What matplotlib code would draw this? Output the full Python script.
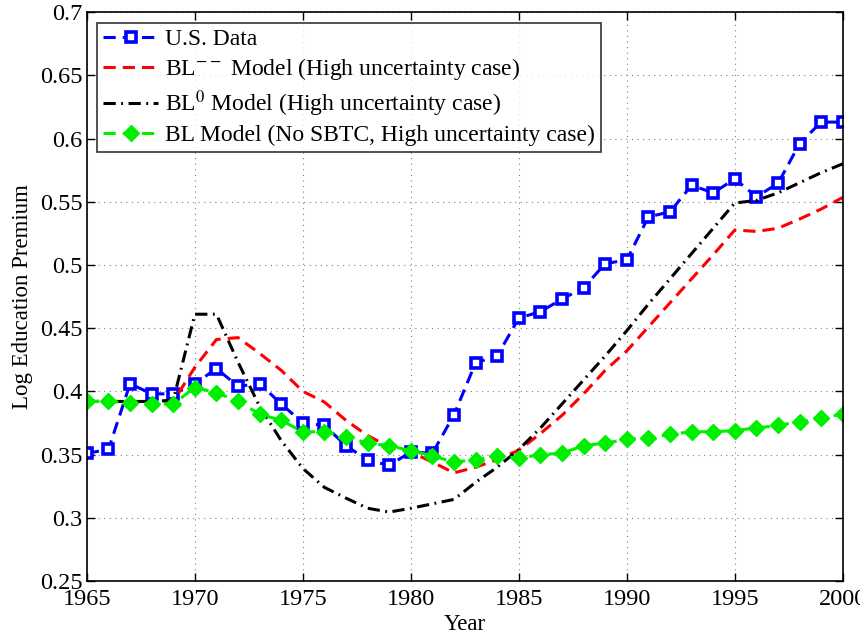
import numpy as np
import matplotlib.pyplot as plt
from matplotlib.ticker import FuncFormatter

plt.rcParams['font.family'] = ['Liberation Serif', 'DejaVu Serif']
plt.rcParams['mathtext.fontset'] = 'stix'

# Data
years = np.arange(1965, 2001)
us_data = [0.351, 0.354, 0.406, 0.398, 0.398, 0.406, 0.418, 0.404, 0.406, 0.390,
           0.375, 0.373, 0.357, 0.3455, 0.3415, 0.352, 0.351, 0.3815, 0.4226, 0.428,
           0.458, 0.463, 0.473, 0.482, 0.501, 0.504, 0.538, 0.542, 0.563, 0.557,
           0.568, 0.554, 0.5645, 0.596, 0.613, 0.613]
bl_mm = [0.392, 0.392, 0.392, 0.392, 0.392, 0.419, 0.441, 0.4425, 0.430, 0.4166,
         0.400, 0.3915, 0.377, 0.365, 0.356, 0.352, 0.344, 0.3355, 0.340, 0.346,
         0.3534, 0.3666, 0.381, 0.398, 0.4166, 0.432, 0.451, 0.470, 0.489, 0.508,
         0.5276, 0.5265, 0.529, 0.5363, 0.5442, 0.5534]
bl_0 = [0.392, 0.392, 0.392, 0.392, 0.393, 0.461, 0.461, 0.423, 0.388, 0.361,
        0.339, 0.324, 0.3155, 0.3075, 0.3045, 0.3075, 0.311, 0.3145, 0.328, 0.340,
        0.354, 0.371, 0.390, 0.409, 0.428, 0.448, 0.469, 0.489, 0.509, 0.529,
        0.549, 0.551, 0.557, 0.565, 0.573, 0.580]
bl_nosbtc = [0.392, 0.392, 0.391, 0.390, 0.390, 0.403, 0.399, 0.392, 0.382, 0.377,
             0.368, 0.368, 0.364, 0.359, 0.357, 0.353, 0.349, 0.344, 0.346, 0.349,
             0.347, 0.350, 0.351, 0.357, 0.359, 0.362, 0.363, 0.366, 0.368, 0.368,
             0.369, 0.371, 0.373, 0.376, 0.379, 0.382]

fig = plt.figure(figsize=(8.6, 6.37), dpi=100)
ax = fig.add_axes([0.101, 0.088, 0.879, 0.893])

lw = 2.2
ax.plot(years, us_data, color='blue', linestyle='--', dashes=(4, 2.3), linewidth=lw,
        marker='s', markersize=7.5, markerfacecolor='white', markeredgecolor='blue',
        markeredgewidth=2.6, label='U.S. Data')
ax.plot(years, bl_mm, color='red', linestyle='--', dashes=(4, 2.3), linewidth=lw,
        label=r'BL$^{--}$ Model (High uncertainty case)')
ax.plot(years, bl_0, color='black', linestyle='-.', dashes=(4, 1.8, 0.6, 1.8), linewidth=lw,
        label=r'BL$^0$ Model (High uncertainty case)')
ax.plot(years, bl_nosbtc, color='#00ee00', linestyle='--', dashes=(4, 2.3), linewidth=lw,
        marker='D', markersize=8, markerfacecolor='#00ee00', markeredgecolor='#00ee00',
        label='BL Model (No SBTC, High uncertainty case)')

ax.set_xlim(1965, 2000)
ax.set_ylim(0.25, 0.7)
ax.set_xticks(np.arange(1965, 2001, 5))
ax.set_yticks(np.arange(0.25, 0.701, 0.05))
ax.yaxis.set_major_formatter(FuncFormatter(lambda v, p: '%g' % round(v, 2)))
ax.tick_params(direction='in', top=True, right=True, labelsize=17.5, length=6, width=1)
ax.tick_params(axis='x', pad=6)
ax.tick_params(axis='y', pad=3)
ax.grid(True, linestyle=(0, (1, 4)), color='gray', linewidth=0.8)
for s in ax.spines.values():
    s.set_linewidth(1.2)

ax.set_xlabel('Year', fontsize=16.5, labelpad=3)
ax.set_ylabel('Log Education Premium', fontsize=16.5, labelpad=5)

leg = ax.legend(loc='upper left', fontsize=17, frameon=True, fancybox=False,
                edgecolor='black', handlelength=2.3, handletextpad=0.3,
                borderpad=0.25, labelspacing=0.25, borderaxespad=0.45)
leg.get_frame().set_linewidth(1.2)

fig.savefig('out.png', dpi=100)
